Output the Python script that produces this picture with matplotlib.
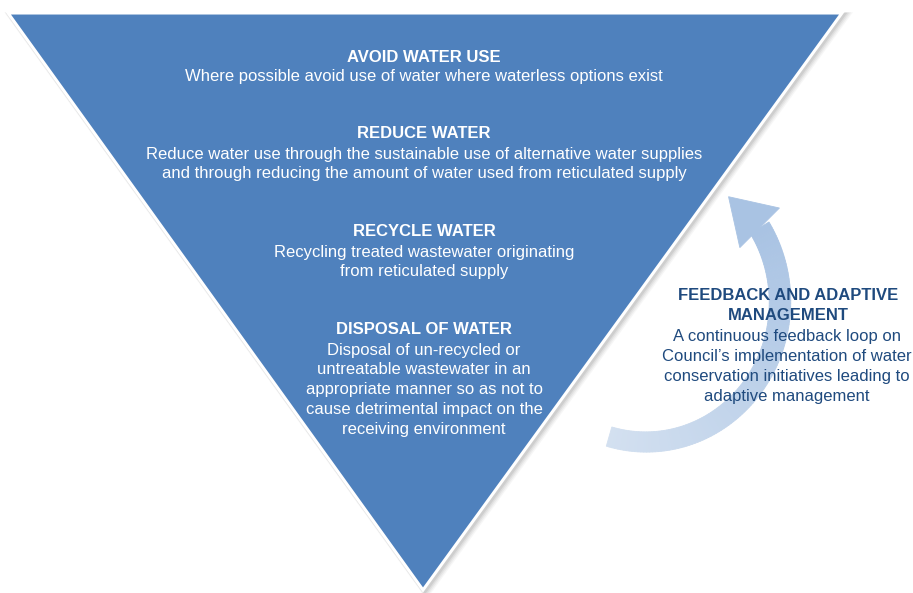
import numpy as np
import matplotlib
matplotlib.use("Agg")
import matplotlib.pyplot as plt
from matplotlib.patches import Polygon
from matplotlib.colors import to_rgb

# ---- content ----
tier_titles = ["AVOID WATER USE", "REDUCE WATER", "RECYCLE WATER", "DISPOSAL OF WATER"]
tier_texts = [
    ["Where possible avoid use of water where waterless options exist"],
    ["Reduce water use through the sustainable use of alternative water supplies",
     "and through reducing the amount of water used from reticulated supply"],
    ["Recycling treated wastewater originating", "from reticulated supply"],
    ["Disposal of un-recycled or", "untreatable wastewater in an",
     "appropriate manner so as not to", "cause detrimental impact on the",
     "receiving environment"],
]
tier_title_y = [57, 134, 232, 330]
feedback_title = ["FEEDBACK AND ADAPTIVE", "MANAGEMENT"]
feedback_text = ["A continuous feedback loop on", "Council\u2019s implementation of water",
                 "conservation initiatives leading to", "adaptive management"]

W, H = 913, 593
fig = plt.figure(figsize=(W / 100, H / 100), dpi=100)
ax = fig.add_axes([0, 0, 1, 1])
ax.set_xlim(0, W)
ax.set_ylim(H, 0)
ax.axis("off")

FONT = "Liberation Sans"
BLUE = "#4f81bd"
DARK = "#1f4a7e"
FS = 12

# ---- triangle ----
tri = np.array([[8, 13], [842, 13], [423, 590]])
for k, a in zip([6, 5, 4, 3], [0.05, 0.07, 0.09, 0.12]):
    ax.add_patch(Polygon(tri + np.array([k * 0.6, k * 0.5]), closed=True,
                         facecolor="none", edgecolor="#606060", lw=k * 0.9,
                         alpha=a, zorder=1, joinstyle="miter"))
ax.add_patch(Polygon(tri, closed=True, facecolor=BLUE, edgecolor="white",
                     lw=2.2, zorder=2, joinstyle="miter"))

# ---- curved arrow (band with colour gradient) ----
cx, cy, rx, ry = 646, 302, 134, 140
th = np.radians(np.linspace(-106, 32, 120))  # y-up angles
half = np.linspace(10, 11, th.size)
c0, c1 = np.array(to_rgb("#d3e0f0")), np.array(to_rgb("#a9c3e3"))
def pt(a, d):
    return (cx + (rx + d) * np.cos(a), cy - (ry + d) * np.sin(a))
for i in range(th.size - 1):
    pts = [pt(th[i], half[i]), pt(th[i + 1], half[i + 1]),
           pt(th[i + 1], -half[i + 1]), pt(th[i], -half[i])]
    t = i / (th.size - 2)
    col = c0 * (1 - t) + c1 * t
    ax.add_patch(Polygon(pts, closed=True, facecolor=col, edgecolor=col, lw=0.6, zorder=3))
# arrow head
te = th[-1]
base = np.array(pt(te, 0))
hd = np.radians(135)  # direction up-left (image coords: x right, y down)
tang = np.array([np.cos(hd), -np.sin(hd)])
nrm = np.array([-tang[1], tang[0]])
tip = base + tang * 44
b1 = base + nrm * 28
b2 = base - nrm * 28
ax.add_patch(Polygon([tip, b1, b2], closed=True, facecolor=c1, edgecolor=c1, lw=0.6, zorder=3))

# ---- tier text ----
LS = 19.8
for title, lines, ty in zip(tier_titles, tier_texts, tier_title_y):
    ax.text(424, ty, title, color="white", fontsize=FS, fontweight="bold",
            family=FONT, ha="center", va="center", zorder=5)
    for k, ln in enumerate(lines):
        ax.text(424, ty + 20 + k * LS, ln, color="white", fontsize=FS,
                family=FONT, ha="center", va="center", zorder=5)

# ---- feedback text ----
for k, ln in enumerate(feedback_title):
    ax.text(788, 296 + k * 20, ln, color=DARK, fontsize=FS, fontweight="bold",
            family=FONT, ha="center", va="center", zorder=5)
for k, ln in enumerate(feedback_text):
    ax.text(787, 337 + k * 20, ln, color=DARK, fontsize=FS,
            family=FONT, ha="center", va="center", zorder=5)

fig.savefig("out.png", dpi=100, facecolor="white")
